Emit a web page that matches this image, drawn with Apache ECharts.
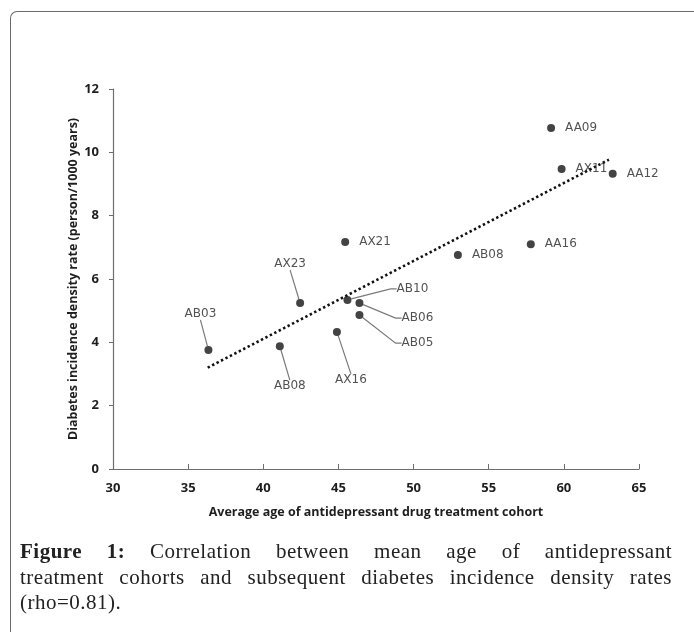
<!DOCTYPE html>
<html>
<head>
<meta charset="utf-8">
<script src="https://cdn.jsdelivr.net/npm/echarts@6/dist/echarts.min.js"></script>
<style>
  html, body { margin: 0; padding: 0; background: #fff; }
  #wrap { position: relative; width: 694px; height: 632px; overflow: hidden; }
  #frame { position: absolute; left: 10px; top: 11px; width: 720px; height: 700px;
    border-left: 1px solid #6b6b6b; border-top: 1px solid #6b6b6b; border-top-left-radius: 7px; }
  #chart { position: absolute; left: 0; top: 0; width: 694px; height: 632px; }
  #caption { position: absolute; left: 20px; top: 539px; width: 652px;
    font-family: "Liberation Serif", "DejaVu Serif", serif; font-size: 21px; letter-spacing: 0.5px;
    color: #222; line-height: 25.5px; }
  #caption div { text-align: justify; text-align-last: justify; white-space: nowrap; }
  #caption div.last { text-align-last: left; }
  #caption b { font-weight: bold; }
</style>
</head>
<body>
<div id="wrap">
  <div id="frame"></div>
  <div id="chart"></div>
  <div id="caption">
    <div><b>Figure 1:</b> Correlation between mean age of antidepressant</div>
    <div>treatment cohorts and subsequent diabetes incidence density rates</div>
    <div class="last">(rho=0.81).</div>
  </div>
</div>
<script>
// cohort names, mean age and incidence rate
const cohorts = ['AA09', 'AX11', 'AA12', 'AX21', 'AB08', 'AA16', 'AB10', 'AB06', 'AB05', 'AX16', 'AX23', 'AB03', 'AB08'];
const meanAge = [59.15, 59.85, 63.25, 45.45, 52.95, 57.8, 45.6, 46.4, 46.4, 44.9, 42.45, 36.35, 41.1];
const incidence = [10.77, 9.47, 9.32, 7.17, 6.76, 7.1, 5.34, 5.24, 4.86, 4.33, 5.24, 3.76, 3.88];

// trend line ends (fitted line as drawn)
const trendX = [36.3, 63.0];
const trendY = [3.2, 9.77];

const xTicks = [30, 35, 40, 45, 50, 55, 60, 65];
const yTicks = [0, 2, 4, 6, 8, 10, 12];

// label placement: 'r' = to the right, otherwise offset from the dot with a leader line
const labelPlace = [
  'r', 'r', 'r', 'r', 'r', 'r',
  [65, -11, 6], [58, 15, 6], [58, 28, 6], [14, 48, 0], [-10, -39, 0], [-8, -36, 0], [10, 40, 0]
];

const points = cohorts.map((name, i) => {
  const p = labelPlace[i];
  const item = { name: name, value: [meanAge[i], incidence[i]] };
  if (p === 'r') {
    item.label = { position: 'right', distance: 7 };
  } else {
    item.label = { position: 'inside' };
    item.labelLine = { show: true, length2: p[2] };
  }
  return item;
});

const chart = echarts.init(document.getElementById('chart'));
const tickFont = { fontFamily: 'Open Sans', fontWeight: 'bold', fontSize: 13, color: '#1e1e1e' };
const nameFont = { fontFamily: 'Open Sans', fontWeight: 'bold', fontSize: 12.5, color: '#1e1e1e' };

chart.setOption({
  animation: false,
  grid: { left: 113, right: 55, top: 89, bottom: 163 },
  xAxis: {
    type: 'value', min: xTicks[0], max: xTicks[xTicks.length - 1], interval: 5,
    name: 'Average age of antidepressant drug treatment cohort',
    nameLocation: 'middle', nameGap: 37, nameMoveOverlap: false,
    nameTextStyle: nameFont,
    axisLine: { show: true, lineStyle: { color: '#6e6e6e', width: 1.2 } },
    axisTick: { show: true, inside: true, length: 5, lineStyle: { color: '#6e6e6e' } },
    axisLabel: Object.assign({ margin: 13 }, tickFont),
    splitLine: { show: false }
  },
  yAxis: {
    type: 'value', min: yTicks[0], max: yTicks[yTicks.length - 1], interval: 2,
    name: 'Diabetes incidence density rate (person/1000 years)',
    nameLocation: 'middle', nameGap: 33, nameRotate: 90, nameMoveOverlap: false,
    nameTextStyle: nameFont,
    axisLine: { show: true, lineStyle: { color: '#6e6e6e', width: 1.2 } },
    axisTick: { show: true, length: 4, lineStyle: { color: '#6e6e6e' } },
    axisLabel: Object.assign({ margin: 14 }, tickFont),
    splitLine: { show: false }
  },
  series: [
    {
      type: 'line',
      data: trendX.map((x, i) => [x, trendY[i]]),
      showSymbol: false,
      symbol: 'none',
      lineStyle: { color: '#111', width: 2.6, type: [2.4, 2.6], cap: 'butt' },
      z: 1
    },
    {
      type: 'scatter',
      data: points,
      symbolSize: 8,
      itemStyle: { color: '#141414' },
      label: {
        show: true, formatter: '{b}',
        fontFamily: 'DejaVu Sans', fontSize: 12, color: '#262626', padding: [0, 3]
      },
      labelLine: { lineStyle: { color: '#7a7a7a', width: 1.2 } },
      labelLayout: function (params) {
        const p = labelPlace[params.dataIndex];
        if (p === 'r') return {};
        return { dx: p[0], dy: p[1] };
      },
      z: 2
    }
  ]
});
</script>
</body>
</html>
